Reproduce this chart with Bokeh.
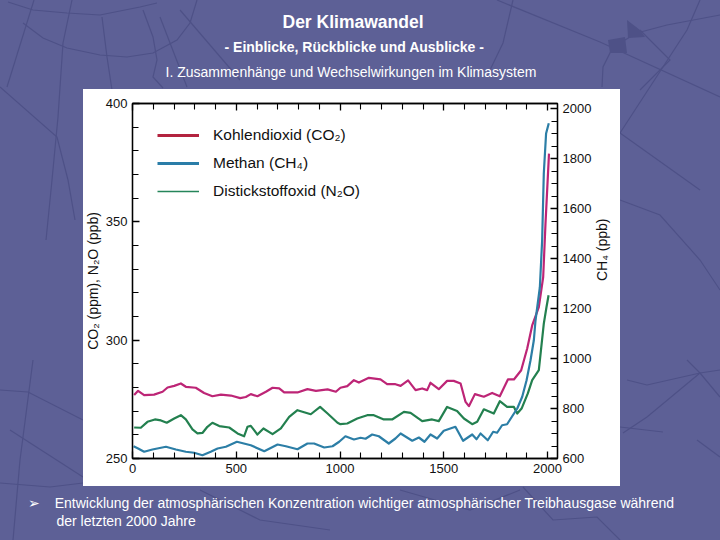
from bokeh.plotting import figure
from bokeh.models import (Range1d, LinearAxis, FixedTicker, Title, Legend, LegendItem)
from bokeh.embed import file_html
from bokeh.resources import INLINE
from urllib.parse import quote
import math

co2_years = [8,27,56,104,145,169,201,233,257,305,345,385,426,474,519,546,570,602,643,675,707,731,795,843,884,940,980,
             1002,1035,1067,1091,1139,1195,1227,1267,1292,1328,1364,1396,1420,1436,1476,1516,1548,1581,1605,1621,1650,1693,1733,1770,1809,1838,1873,1902,1926,1958,1979,1990,2007]
co2_ppm = [276.8,278.6,276.8,277.0,278.2,280,280.7,281.7,280.3,279.9,277.7,276.3,277,276.6,275.5,276,277.2,276.3,278.2,279.9,279.6,277.9,277.9,279.3,278.6,279.2,278.2,
           279.9,280.6,283.1,282.1,284.1,283.4,281.4,281.4,280.7,283,278.9,279.6,278.9,282,279.3,282.8,282.8,281.7,273.9,272.1,277.2,276.1,277.7,276.3,283.4,283.4,287.3,296.5,306.2,314,326.6,349,378.8]

n2o_years = [8,40,72,108,137,165,201,233,257,289,313,337,361,385,418,466,506,538,554,570,586,602,631,675,715,755,795,859,904,940,988,
             1002,1035,1083,1131,1163,1211,1251,1308,1340,1396,1444,1476,1516,1564,1597,1637,1661,1693,1741,1770,1805,1838,1854,1875,1905,1926,1958,1971,1982,1995,2005]
n2o_ppb = [263.1,263,265.5,266.5,266.1,265.1,266.9,268.3,266.5,262.3,260.6,260.8,263.4,265.1,263.7,263.1,260.6,259.4,263.4,263.8,262,260.1,262.7,260.3,262.7,267.6,270.4,268.7,271.8,269,265.1,
           264.5,264.8,266.9,268.3,268.3,266.5,266.5,269.7,269.3,265.8,266.5,265.8,271.8,270.1,266.9,264.5,265.5,270.8,269,274.2,271.8,271.8,269,271.1,277.5,283.1,287.3,298,307,314,319]

ch4_years = [5,27,56,96,161,209,257,297,337,377,410,450,503,570,635,699,739,795,843,875,924,964,996,
             1026,1067,1099,1123,1155,1187,1235,1267,1292,1348,1380,1407,1436,1468,1500,1556,1593,1637,1658,1677,1712,1738,1757,1781,1805,1854,1878,1899,1918,1934,1942,1963,1974,1982,1993,2006]
ch4_ppb = [649,640,627,636,647,636,627,623,613,627,640,647,667,653,629,656,649,637,660,660,644,649,667,
           689,676,683,679,696,689,660,680,700,671,684,667,696,680,711,727,671,696,677,700,673,707,703,733,737,800,847,913,993,1073,1152,1285,1472,1740,1900,1941]

x_ticks = [0, 500, 1000, 1500, 2000]
x_minor = [100,200,300,400,600,700,800,900,1100,1200,1300,1400,1600,1700,1800,1900]
left_ticks = [250, 300, 350, 400]
left_minor = [v for v in range(250, 401, 10) if v % 50]
right_ticks = [600, 800, 1000, 1200, 1400, 1600, 1800, 2000]
right_minor = [v for v in range(600, 2001, 50) if v % 200]

legend_labels = ["Kohlendioxid (CO₂)", "Methan (CH₄)", "Distickstoffoxid (N₂O)"]
title_lines = ["Der Klimawandel", "- Einblicke, Rückblicke und Ausblicke -",
               "I. Zusammenhänge und Wechselwirkungen im Klimasystem"]
caption_lines = ["➢\u2003\u200aEntwicklung der atmosphärischen Konzentration wichtiger atmosphärischer Treibhausgase während",
                 "der letzten 2000 Jahre"]

BG = "#5d6096"
FONT = "Liberation Sans"
W, H = 720, 540

p = figure(width=W, height=H, output_backend="svg", toolbar_location=None,
           x_range=Range1d(0, 2048), y_range=Range1d(250, 400),
           min_border_left=132, min_border_right=163, min_border_top=103, min_border_bottom=82,
           border_fill_color=None, background_fill_color="white")
p.extra_y_ranges = {"ch4": Range1d(600, 2020)}
p.grid.visible = False
p.outline_line_color = "black"
p.outline_line_width = 1.3
p.title = None

def style(ax, major, minor):
    ax.ticker = FixedTicker(ticks=major, minor_ticks=minor)
    ax.major_tick_in = 7
    ax.major_tick_out = 0
    ax.minor_tick_in = 6
    ax.minor_tick_out = 0
    ax.major_tick_line_color = "black"
    ax.minor_tick_line_color = "black"
    ax.major_tick_line_width = 1.3
    ax.minor_tick_line_width = 1.1
    ax.axis_line_color = "black"
    ax.axis_line_width = 1.3
    ax.major_label_text_font = FONT
    ax.major_label_text_font_size = "13px"
    ax.major_label_text_color = "#111111"
    ax.major_label_standoff = 5
    ax.axis_label_text_font = FONT
    ax.axis_label_text_font_size = "14px"
    ax.axis_label_text_font_style = "normal"
    ax.axis_label_text_color = "#111111"

xa = p.xaxis[0]
style(xa, x_ticks, x_minor)
ya = p.yaxis[0]
style(ya, left_ticks, left_minor)
ya.axis_label = "CO₂ (ppm), N₂O (ppb)"
ya.axis_label_standoff = 2

ra = LinearAxis(y_range_name="ch4")
style(ra, right_ticks, right_minor)
ra.axis_label = "CH₄ (ppb)"
ra.axis_label_standoff = 8
ra.axis_label_orientation = math.pi / 2
p.add_layout(ra, "right")

ta = LinearAxis()
style(ta, x_ticks, x_minor)
ta.major_label_overrides = {t: "" for t in x_ticks}
ta.major_label_standoff = 0
p.add_layout(ta, "above")

p.line(co2_years, co2_ppm, line_color="#bd2576", line_width=2.2, line_join="round")
p.line(n2o_years, n2o_ppb, line_color="#23804f", line_width=2.2, line_join="round")
p.line(ch4_years, ch4_ppb, line_color="#2c7ea6", line_width=2.2, line_join="round", y_range_name="ch4")

nan = float("nan")
k1 = p.line([nan, nan], [nan, nan], line_color="#b3233f", line_width=3)
k2 = p.line([nan, nan], [nan, nan], line_color="#2a7da8", line_width=3)
k3 = p.line([nan, nan], [nan, nan], line_color="#25855a", line_width=1.6)
leg = Legend(items=[LegendItem(label=t, renderers=[r]) for t, r in zip(legend_labels, (k1, k2, k3))],
             location=(25, 257), background_fill_alpha=0, border_line_color=None, padding=0, margin=0,
             spacing=8, glyph_width=42, glyph_height=20, label_standoff=14, label_height=20,
             label_text_font=FONT, label_text_font_size="15.5px", label_text_color="#111111")
p.add_layout(leg)

def title(t, place, size, weight, offset, standoff, valign="middle"):
    p.add_layout(Title(text=t, text_color="white", text_font=FONT, text_font_size=size, text_font_style=weight,
                       align="left", offset=offset, standoff=standoff, vertical_align=valign), place)

# "above" titles stack upward from the frame; "below" titles stack downward.
title("\u00a0", "above", "14px", "normal", 0, 2)
title(title_lines[2], "above", "14px", "normal", 33, 6)
title(title_lines[1], "above", "14px", "bold", 92, 7)
title(title_lines[0], "above", "17.5px", "bold", 150, 4)
title("\u00a0", "below", "14px", "normal", 0, 0)
title(caption_lines[0], "below", "14px", "normal", -105, 0)
title(caption_lines[1], "below", "14px", "normal", -76, 0)

map_lines = [
    [(23,23),(43,38),(67,48),(100,55),(127,57),(153,53),(177,40),(190,23),(197,0)],
    [(8,2),(33,10),(67,13),(100,15),(140,7),(157,3)],
    [(34,0),(7,87)], [(72,0),(63,43),(58,117),(52,180),(46,240)], [(102,17),(107,57),(112,90)],
    [(0,87),(57,137),(68,180),(75,220)], [(143,10),(153,37),(157,60),(153,77),(163,88)],
    [(160,17),(187,87)], [(180,10),(240,80)],
    [(513,0),(503,43),(490,70)], [(497,0),(600,42),(720,97)], [(700,0),(687,30),(620,133)],
    [(627,380),(647,385),(700,373),(720,370)], [(620,427),(663,432)], [(687,360),(700,373),(720,397)],
    [(700,373),(647,417),(623,433)], [(697,440),(720,457)], [(523,487),(553,520),(597,517),(620,540)],
    [(33,360),(20,460),(13,540)], [(0,390),(28,392),(83,420)], [(10,430),(83,477)], [(0,483),(50,487),(83,483)],
    [(620,133),(700,190)], [(620,200),(660,215),(700,260),(720,290)], [(640,30),(670,60),(640,90)],
    [(200,490),(260,520),(330,530)], [(400,490),(470,510),(520,490)],
    [(602,87),(603,67),(613,47),(637,33),(667,25),(720,15)],
]
map_blobs = [
    [(608,40),(625,37),(627,53),(610,53)], [(627,20),(640,30),(645,37),(628,38)],
]
svg = "<svg xmlns='http://www.w3.org/2000/svg' width='720' height='540'>"
for pts in map_lines:
    svg += "<polyline fill='none' stroke='#4e5187' stroke-width='1.2' points='" + " ".join(f"{a},{b}" for a, b in pts) + "'/>"
for pts in map_blobs:
    svg += "<polygon fill='#4e5187' points='" + " ".join(f"{a},{b}" for a, b in pts) + "'/>"
svg += "<rect x='83' y='89' width='537' height='397' fill='white'/></svg>"

T = "{% block inner_head %}{{ super() }}<style>html,body{margin:0;overflow:hidden;background:" + BG + \
    " url(\"data:image/svg+xml," + quote(svg) + "\") no-repeat}</style>{% endblock %}"
open("out.html", "w").write(file_html(p, INLINE, template=T))
